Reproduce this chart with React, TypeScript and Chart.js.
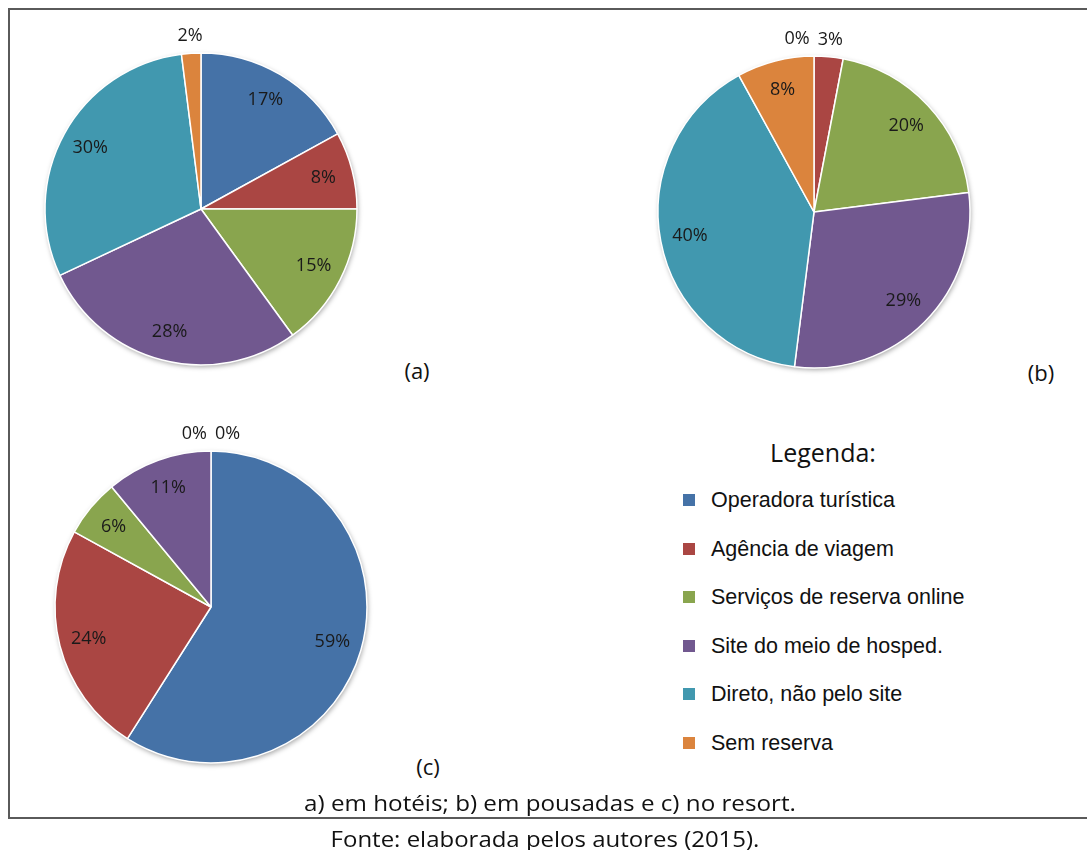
import React, { useEffect, useRef } from "react";
import { Chart, registerables } from "chart.js";

Chart.register(...registerables);

// ---------- data ----------
const categories = [
  "Operadora turística",
  "Agência de viagem",
  "Serviços de reserva online",
  "Site do meio de hosped.",
  "Direto, não pelo site",
  "Sem reserva",
];
const sliceColors = ["#4572A7", "#AA4643", "#89A54E", "#71588F", "#4198AF", "#DB843D"];
const hoteisValues = [17, 8, 15, 28, 30, 2];
const pousadasValues = [0, 3, 20, 29, 40, 8];
const resortValues = [59, 24, 6, 11, 0, 0];
const panelTags = ["(a)", "(b)", "(c)"];
const legendTitle = "Legenda:";
const captionText = "a) em hotéis; b) em pousadas e c) no resort.";
const sourceText = "Fonte: elaborada pelos autores (2015).";

const LABEL_FONT = "18px 'Open Sans'";
const CAPTION_FONT = "'Open Sans', sans-serif";

// ---------- plugins ----------
const shadowPlugin = {
  id: "pieShadow",
  beforeDatasetsDraw(chart: any) {
    const meta = chart.getDatasetMeta(0);
    const el = meta.data[0];
    if (!el) return;
    const p = el.getProps(["x", "y", "outerRadius"], true);
    const ctx = chart.ctx;
    ctx.save();
    ctx.beginPath();
    ctx.arc(p.x, p.y, p.outerRadius, 0, Math.PI * 2);
    ctx.fillStyle = "#ffffff";
    ctx.shadowColor = "rgba(0,0,0,0.35)";
    ctx.shadowBlur = 5;
    ctx.shadowOffsetX = 1;
    ctx.shadowOffsetY = 2;
    ctx.fill();
    ctx.restore();
  },
};

const labelPlugin = {
  id: "pctLabels",
  afterDatasetsDraw(chart: any) {
    const ctx = chart.ctx;
    const meta = chart.getDatasetMeta(0);
    const data = chart.data.datasets[0].data as number[];
    ctx.save();
    ctx.font = LABEL_FONT;
    ctx.fillStyle = "#1a1a1a";
    ctx.textAlign = "center";
    ctx.textBaseline = "middle";
    const outside: any[] = [];
    meta.data.forEach((el: any, i: number) => {
      const p = el.getProps(["x", "y", "startAngle", "endAngle", "outerRadius"], true);
      const mid = (p.startAngle + p.endAngle) / 2;
      const v = data[i];
      const text = v + "%";
      if (v >= 5) {
        const r = p.outerRadius * 0.81;
        ctx.fillText(text, p.x + Math.cos(mid) * r, p.y + Math.sin(mid) * r);
      } else {
        const r = p.outerRadius + 17;
        outside.push({
          text,
          v,
          x: p.x + Math.cos(mid) * r,
          y: p.y + Math.sin(mid) * r,
          w: ctx.measureText(text).width,
        });
      }
    });
    const gap = 8;
    outside.sort((a, b) => a.x - b.x);
    const groups: any[][] = [];
    outside.forEach((l) => {
      const g = groups[groups.length - 1];
      if (g) {
        const last = g[g.length - 1];
        if (l.x - last.x < (l.w + last.w) / 2 + gap) {
          g.push(l);
          return;
        }
      }
      groups.push([l]);
    });
    groups.forEach((g) => {
      if (g.length > 1) {
        const allEqual = g.every((l) => l.v === g[0].v);
        if (allEqual) {
          const mean = g.reduce((s, l) => s + l.x, 0) / g.length;
          const total = g.reduce((s, l) => s + l.w, 0) + gap * (g.length - 1);
          let cur = mean - total / 2;
          g.forEach((l) => {
            l.x = cur + l.w / 2;
            cur += l.w + gap;
          });
        } else {
          let a = 0;
          g.forEach((l, i) => {
            if (l.v > g[a].v) a = i;
          });
          for (let j = a - 1; j >= 0; j--) g[j].x = g[j + 1].x - (g[j].w + g[j + 1].w) / 2 - gap;
          for (let j = a + 1; j < g.length; j++) g[j].x = g[j - 1].x + (g[j].w + g[j - 1].w) / 2 + gap;
        }
      }
      g.forEach((l) => ctx.fillText(l.text, l.x, l.y));
    });
    ctx.restore();
  },
};

// ---------- components ----------
const SIZE = 400;

function PieChart({ values, cx, cy }: { values: number[]; cx: number; cy: number }) {
  const ref = useRef<HTMLCanvasElement>(null);
  useEffect(() => {
    const chart = new Chart(ref.current as HTMLCanvasElement, {
      type: "pie",
      data: {
        labels: categories,
        datasets: [
          {
            data: values,
            backgroundColor: sliceColors,
            borderColor: "#ffffff",
            borderWidth: 1.5,
            radius: 156,
          } as any,
        ],
      },
      options: {
        responsive: false,
        maintainAspectRatio: false,
        animation: false,
        events: [],
        layout: { padding: 0 },
        plugins: { legend: { display: false }, tooltip: { enabled: false } },
      },
      plugins: [shadowPlugin, labelPlugin],
    });
    return () => chart.destroy();
  }, [values]);
  return (
    <canvas
      ref={ref}
      width={SIZE}
      height={SIZE}
      style={{ position: "absolute", left: cx - SIZE / 2, top: cy - SIZE / 2, width: SIZE, height: SIZE }}
    />
  );
}

function Text({
  x,
  y,
  size,
  children,
  family = CAPTION_FONT,
  align = "center",
  stretch = 1,
}: {
  x: number;
  y: number;
  size: number;
  children: any;
  family?: string;
  align?: "center" | "left";
  stretch?: number;
}) {
  const base = align === "center" ? "translate(-50%, -50%)" : "translate(0, -50%)";
  return (
    <div
      style={{
        position: "absolute",
        left: x,
        top: y,
        transform: stretch !== 1 ? `${base} scaleX(${stretch})` : base,
        transformOrigin: align === "center" ? "50% 50%" : "0 50%",
        fontFamily: family,
        fontSize: size,
        lineHeight: 1.2,
        whiteSpace: "nowrap",
        color: "#111",
      }}
    >
      {children}
    </div>
  );
}

export default function App() {
  return (
    <div
      style={{
        position: "absolute",
        left: 0,
        top: 0,
        width: 1087,
        height: 850,
        overflow: "hidden",
        background: "#ffffff",
      }}
    >
      <div
        style={{
          position: "absolute",
          left: 8,
          top: 8,
          width: 1100,
          height: 811,
          borderTop: "2px solid #5a5a5a",
          borderLeft: "2px solid #5a5a5a",
          borderBottom: "2px solid #5a5a5a",
          boxSizing: "border-box",
        }}
      />
      <PieChart values={hoteisValues} cx={201} cy={209} />
      <PieChart values={pousadasValues} cx={814} cy={212} />
      <PieChart values={resortValues} cx={211} cy={607} />

      <Text x={417} y={370} size={22}>{panelTags[0]}</Text>
      <Text x={1041} y={372} size={22}>{panelTags[1]}</Text>
      <Text x={428} y={766} size={22}>{panelTags[2]}</Text>

      <Text x={823} y={452} size={25}>{legendTitle}</Text>
      {categories.map((c, i) => (
        <React.Fragment key={c}>
          <div
            style={{
              position: "absolute",
              left: 683,
              top: 500 + i * 48.6 - 6,
              width: 12,
              height: 12,
              background: sliceColors[i],
            }}
          />
          <Text x={711} y={500 + i * 48.6 + 1} size={21.5} family="'Liberation Sans', Arial, sans-serif" align="left">
            {c}
          </Text>
        </React.Fragment>
      ))}

      <Text x={550} y={802} size={22} stretch={1.1}>{captionText}</Text>
      <Text x={545} y={838} size={22} stretch={1.09}>{sourceText}</Text>
    </div>
  );
}
